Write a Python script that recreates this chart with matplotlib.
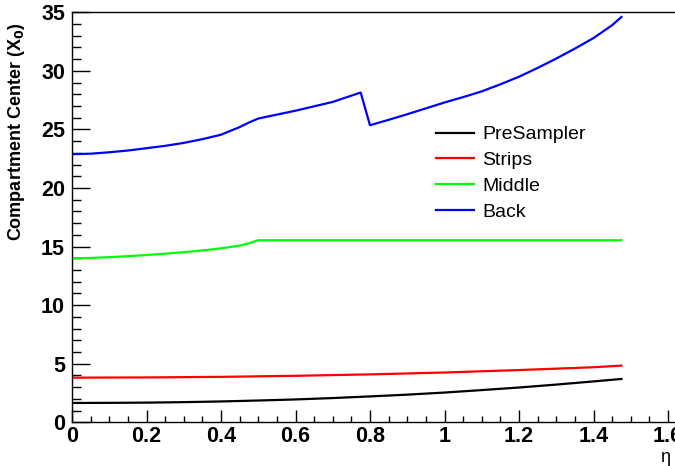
import matplotlib
matplotlib.use("Agg")
import matplotlib.pyplot as plt
from matplotlib.ticker import MultipleLocator

plt.rcParams['font.family'] = ['Liberation Sans', 'DejaVu Sans']

# compartment centres vs eta, in radiation lengths
eta_pre = [0.0, 0.1, 0.2, 0.3, 0.4, 0.5, 0.6, 0.7, 0.8, 0.9, 1.0, 1.1, 1.2, 1.3, 1.4, 1.475]
presampler = [1.65, 1.66, 1.68, 1.72, 1.78, 1.86, 1.95, 2.07, 2.21, 2.36, 2.54, 2.75, 2.97, 3.22, 3.49, 3.70]

eta_strips = [0.0, 0.2, 0.4, 0.6, 0.8, 1.0, 1.2, 1.4, 1.475]
strips = [3.81, 3.83, 3.88, 3.97, 4.09, 4.25, 4.46, 4.70, 4.84]

eta_middle = [0.0, 0.05, 0.1, 0.15, 0.2, 0.25, 0.3, 0.35, 0.4, 0.45, 0.475, 0.5, 1.475]
middle = [14.0, 14.03, 14.1, 14.18, 14.28, 14.4, 14.52, 14.67, 14.85, 15.08, 15.28, 15.54, 15.54]

eta_back = [0.0, 0.05, 0.1, 0.15, 0.2, 0.25, 0.3, 0.35, 0.4, 0.45, 0.475, 0.5, 0.6, 0.7, 0.775,
            0.8, 0.85, 0.9, 0.95, 1.0, 1.05, 1.1, 1.15, 1.2, 1.25, 1.3, 1.35, 1.4, 1.45, 1.475]
back = [22.89, 22.93, 23.05, 23.2, 23.4, 23.6, 23.85, 24.17, 24.55, 25.2, 25.59, 25.93, 26.6, 27.35, 28.15,
        25.36, 25.82, 26.3, 26.8, 27.3, 27.76, 28.25, 28.85, 29.5, 30.25, 31.05, 31.9, 32.8, 33.9, 34.6]

fig = plt.figure(figsize=(6.75, 4.66), dpi=100)
ax = fig.add_axes([72/675, 1 - 422.3/466, 1 - 72/675, (422.3 - 12.3)/466])

lw = 1.6
ax.plot(eta_pre, presampler, color='black', lw=lw, label='PreSampler')
ax.plot(eta_strips, strips, color='red', lw=lw, label='Strips')
ax.plot(eta_middle, middle, color='#00ff00', lw=lw, label='Middle')
ax.plot(eta_back, back, color='blue', lw=lw, label='Back')

ax.set_xlim(0, (675 - 72) / 372.5)
ax.set_ylim(0, 35)
ax.spines['right'].set_visible(False)
for s in ['left', 'bottom', 'top']:
    ax.spines[s].set_linewidth(1.0)

ax.xaxis.set_major_locator(MultipleLocator(0.2))
ax.xaxis.set_minor_locator(MultipleLocator(0.05))
ax.yaxis.set_major_locator(MultipleLocator(5))
ax.yaxis.set_minor_locator(MultipleLocator(1))
ax.set_xticks([0, 0.2, 0.4, 0.6, 0.8, 1.0, 1.2, 1.4, 1.6])
ax.set_xticklabels(['0', '0.2', '0.4', '0.6', '0.8', '1', '1.2', '1.4', '1.6'])
ax.tick_params(axis='x', which='major', direction='in', length=9, width=1,
               labelsize=15.5, pad=3, top=False)
ax.tick_params(axis='x', which='minor', direction='in', length=4.5, width=1, top=False)
ax.tick_params(axis='y', which='major', direction='in', length=13, width=1,
               labelsize=15.5, pad=5, right=False)
ax.tick_params(axis='y', which='minor', direction='in', length=6.5, width=1, right=False)
for lab in ax.get_xticklabels() + ax.get_yticklabels():
    lab.set_fontweight('bold')

ax.set_ylabel(r'Compartment Center (X$_\mathbf{0}$)', fontsize=13, fontweight='bold')
ax.yaxis.set_label_coords(-0.075, 0.708)
fig.text(670/675, 1 - 457/466, 'η', fontsize=13, ha='right', va='center')

ax.legend(loc='upper left', bbox_to_anchor=(426/675, 1 - 116/466),
          bbox_transform=fig.transFigure, frameon=False, fontsize=14,
          handlelength=1.95, handletextpad=0.45, labelspacing=0.42, borderpad=0)

fig.savefig('out.png', dpi=100)
